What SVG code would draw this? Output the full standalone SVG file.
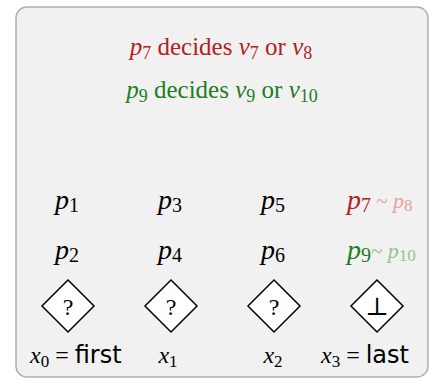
<svg xmlns="http://www.w3.org/2000/svg" width="430" height="381" viewBox="0 0 430 381">
<style>
text{font-family:"Liberation Serif","DejaVu Serif","Times New Roman",serif;}
.i{font-style:italic;}
.s{font-family:"DejaVu Sans","Liberation Sans",sans-serif;}
.red{fill:#b22222;}
.grn{fill:#1e7d1e;}
.lred{fill:#e8a0a0;}
.lgrn{fill:#92c492;}
.dia{fill:#ffffff;stroke:#000000;stroke-width:1.5;}
.big{font-size:28px;fill:#000;}
.lab{font-size:24px;fill:#000;}
</style>
<rect x="16" y="7" width="412" height="370" rx="11" ry="11" fill="#f1f1f1" stroke="#b0b0b0" stroke-width="1.5"/>
<g id="title">
<text class="red" x="221" y="55" text-anchor="middle" font-size="25"><tspan class="i">p</tspan><tspan font-size="18" dy="4">7</tspan><tspan dy="-4"> decides </tspan><tspan class="i">v</tspan><tspan font-size="18" dy="4">7</tspan><tspan dy="-4"> or </tspan><tspan class="i">v</tspan><tspan font-size="18" dy="4">8</tspan></text>
<text class="grn" x="222" y="98" text-anchor="middle" font-size="25"><tspan class="i">p</tspan><tspan font-size="18" dy="4">9</tspan><tspan dy="-4"> decides </tspan><tspan class="i">v</tspan><tspan font-size="18" dy="4">9</tspan><tspan dy="-4"> or </tspan><tspan class="i">v</tspan><tspan font-size="18" dy="4">10</tspan></text>
</g>
<g id="col0">
<text class="big" x="67" y="209" text-anchor="middle"><tspan class="i">p</tspan><tspan font-size="20" dy="3">1</tspan></text>
<text class="big" x="67" y="259" text-anchor="middle"><tspan class="i">p</tspan><tspan font-size="20" dy="3">2</tspan></text>
<polygon class="dia" points="68,280 94,306 68,332 42,306"/>
<text x="68" y="315" text-anchor="middle" font-size="24">?</text>
<text class="lab" x="30" y="363"><tspan class="i">x</tspan><tspan font-size="17" dy="4">0</tspan><tspan dy="-4"> = </tspan><tspan class="s">first</tspan></text>
</g>
<g id="col1">
<text class="big" x="170" y="209" text-anchor="middle"><tspan class="i">p</tspan><tspan font-size="20" dy="3">3</tspan></text>
<text class="big" x="170" y="259" text-anchor="middle"><tspan class="i">p</tspan><tspan font-size="20" dy="3">4</tspan></text>
<polygon class="dia" points="171,280 197,306 171,332 145,306"/>
<text x="171" y="315" text-anchor="middle" font-size="24">?</text>
<text class="lab" x="168" y="363" text-anchor="middle"><tspan class="i">x</tspan><tspan font-size="17" dy="4">1</tspan></text>
</g>
<g id="col2">
<text class="big" x="273" y="209" text-anchor="middle"><tspan class="i">p</tspan><tspan font-size="20" dy="3">5</tspan></text>
<text class="big" x="273" y="259" text-anchor="middle"><tspan class="i">p</tspan><tspan font-size="20" dy="3">6</tspan></text>
<polygon class="dia" points="274,280 300,306 274,332 248,306"/>
<text x="274" y="315" text-anchor="middle" font-size="24">?</text>
<text class="lab" x="273" y="363" text-anchor="middle"><tspan class="i">x</tspan><tspan font-size="17" dy="4">2</tspan></text>
</g>
<g id="col3">
<text x="347" y="209" font-size="28"><tspan class="i red">p</tspan><tspan class="red" font-size="20" dy="3">7</tspan><tspan class="lred" font-size="21" dy="-4"> ~ </tspan><tspan class="i lred" font-size="22">p</tspan><tspan class="lred" font-size="17" dy="3">8</tspan></text>
<text x="347" y="259" font-size="28"><tspan class="i grn">p</tspan><tspan class="grn" font-size="20" dy="3">9</tspan><tspan class="lgrn" font-size="21" dy="-4">~ </tspan><tspan class="i lgrn" font-size="22">p</tspan><tspan class="lgrn" font-size="17" dy="3">10</tspan></text>
<polygon class="dia" points="377,280 403,306 377,332 351,306"/>
<text x="377" y="315" text-anchor="middle" font-size="25">⊥</text>
<text class="lab" x="321" y="363"><tspan class="i">x</tspan><tspan font-size="17" dy="4">3</tspan><tspan dy="-4"> = </tspan><tspan class="s">last</tspan></text>
</g>
<g id="connectors"></g>
</svg>
